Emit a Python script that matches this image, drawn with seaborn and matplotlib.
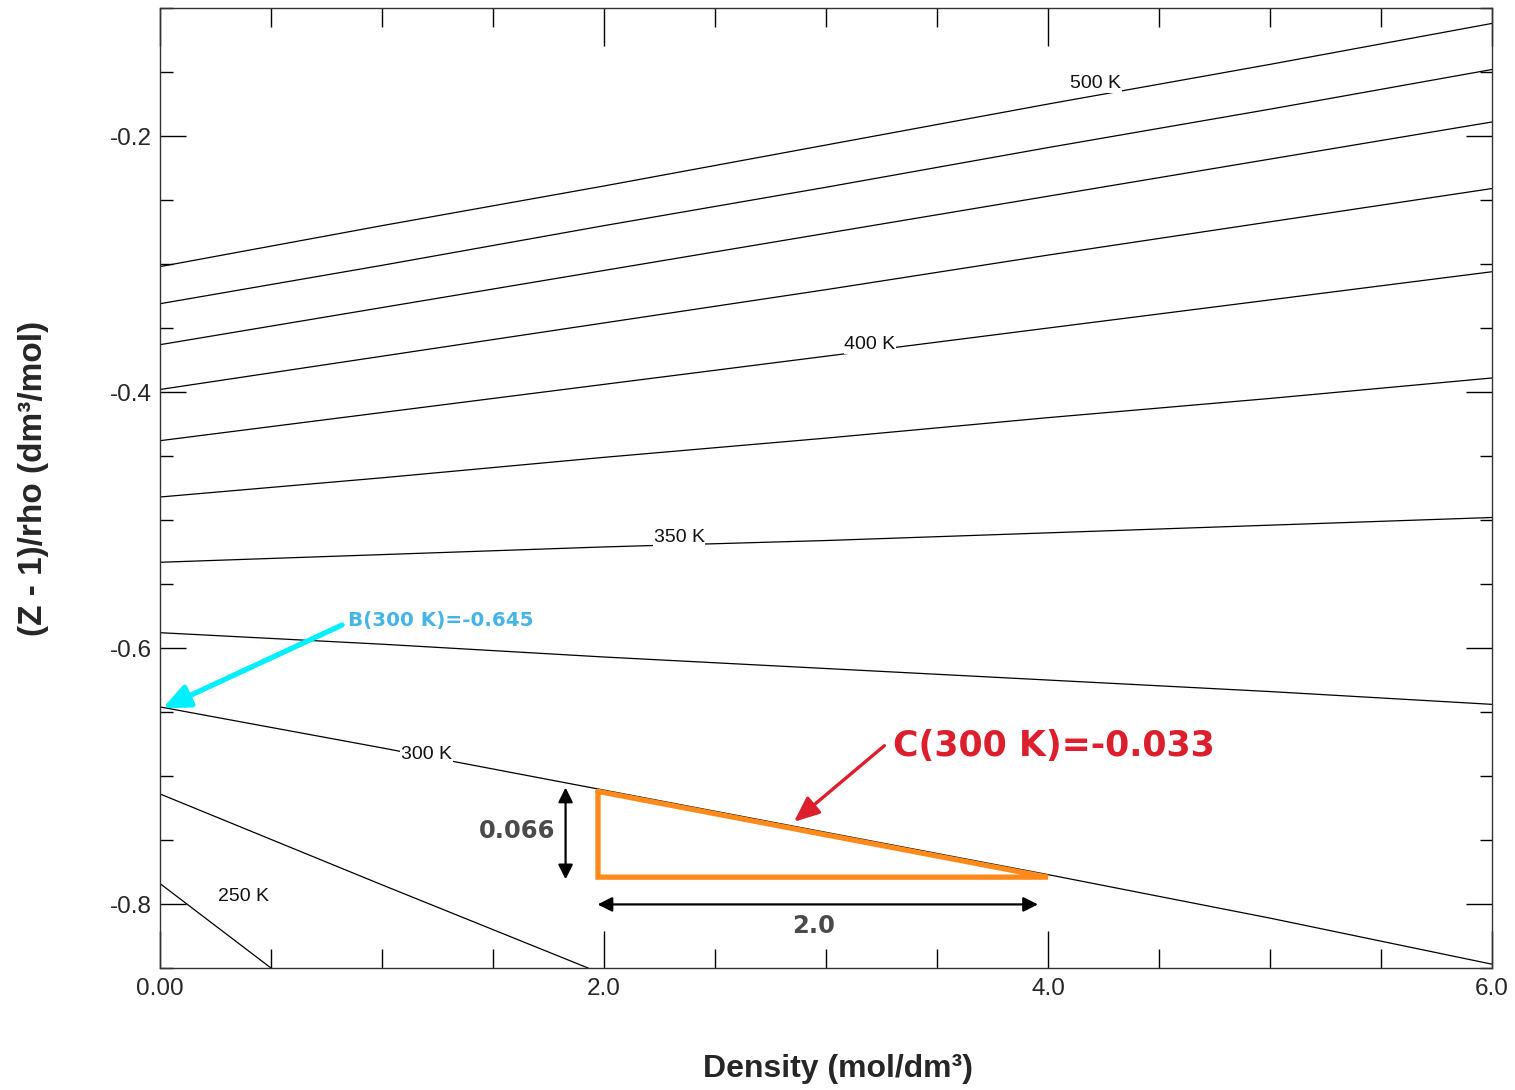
import pandas as pd
import matplotlib.pyplot as plt
import seaborn as sns
from matplotlib.ticker import FixedLocator, MultipleLocator

# Isotermas (Z-1)/rho
densidad = [0, 1, 2, 3, 4, 5, 6]
iso_500 = [-0.302, -0.270, -0.239, -0.207, -0.175, -0.144, -0.112]
iso_475 = [-0.331, -0.301, -0.270, -0.240, -0.209, -0.179, -0.148]
iso_450 = [-0.363, -0.334, -0.305, -0.276, -0.247, -0.218, -0.189]
iso_425 = [-0.398, -0.372, -0.346, -0.320, -0.293, -0.267, -0.241]
iso_400 = [-0.438, -0.416, -0.394, -0.372, -0.350, -0.328, -0.306]
iso_375 = [-0.482, -0.467, -0.451, -0.436, -0.420, -0.405, -0.389]
iso_350 = [-0.533, -0.527, -0.521, -0.516, -0.510, -0.504, -0.498]
iso_325 = [-0.588, -0.597, -0.607, -0.616, -0.625, -0.634, -0.644]
iso_300 = [-0.646, -0.678, -0.711, -0.744, -0.777, -0.811, -0.847]
densidad_275 = [0, 1, 2]
iso_275 = [-0.714, -0.785, -0.855]
densidad_250 = [0, 0.5, 1.0]
iso_250 = [-0.784, -0.850, -0.916]

# Etiquetas de las isotermas (texto, x, y)
etiquetas = ['500 K', '400 K', '350 K', '300 K', '250 K']
etiq_x = [4.216, 3.198, 2.338, 1.200, 0.374]
etiq_y = [-0.159, -0.363, -0.514, -0.683, -0.794]

# Coeficientes viriales a 300 K
B_300 = -0.645
C_300 = -0.033
tri_x = [1.973, 1.973, 4.0, 1.973]
tri_y = [-0.712, -0.779, -0.779, -0.712]

series = [
    (500, densidad, iso_500), (475, densidad, iso_475), (450, densidad, iso_450),
    (425, densidad, iso_425), (400, densidad, iso_400), (375, densidad, iso_375),
    (350, densidad, iso_350), (325, densidad, iso_325), (300, densidad, iso_300),
    (275, densidad_275, iso_275), (250, densidad_250, iso_250),
]
filas = []
for T, xs, ys in series:
    for x, y in zip(xs, ys):
        filas.append({'T': T, 'rho': x, 'valor': y})
df = pd.DataFrame(filas)

sns.set_style("white")
plt.rcParams['font.family'] = ['Liberation Sans', 'DejaVu Sans']
plt.rcParams['axes.unicode_minus'] = False

fig = plt.figure(figsize=(15.15, 10.9), dpi=100)
ax = fig.add_axes([0.1056, 0.1119, 0.8792, 0.8807])

sns.lineplot(data=df, x='rho', y='valor', units='T', estimator=None, sort=False,
             color='black', linewidth=0.9, ax=ax, legend=False)

for txt, x, y in zip(etiquetas, etiq_x, etiq_y):
    ax.text(x, y, txt, fontsize=14, ha='center', va='center', color='#111111',
            bbox=dict(facecolor='white', edgecolor='none', pad=0.5))

# Triángulo de la pendiente
ax.plot(tri_x, tri_y, color='#ff8a1c', linewidth=3.8, solid_joinstyle='miter')

# Flechas de cota
ax.annotate('', xy=(1.827, -0.709), xytext=(1.827, -0.7807),
            arrowprops=dict(arrowstyle='<|-|>', color='black', lw=1.6,
                            mutation_scale=22, shrinkA=0, shrinkB=0))
ax.annotate('', xy=(1.971, -0.8003), xytext=(3.955, -0.8003),
            arrowprops=dict(arrowstyle='<|-|>', color='black', lw=1.6,
                            mutation_scale=22, shrinkA=0, shrinkB=0))
ax.text(1.610, -0.743, '0.066', fontsize=17.5, fontweight='bold', color='#4a4a4a',
        ha='center', va='center', family='DejaVu Sans')
ax.text(2.946, -0.8172, '2.0', fontsize=17.5, fontweight='bold', color='#4a4a4a',
        ha='center', va='center', family='DejaVu Sans')

# Anotaciones B y C
ax.annotate('', xy=(0.012, -0.647), xytext=(0.82, -0.582),
            arrowprops=dict(arrowstyle='-|>,head_length=0.8,head_width=0.35',
                            color='#00f0ff', lw=3.8, mutation_scale=20,
                            shrinkA=0, shrinkB=0))
ax.text(0.847, -0.5785, f'B(300 K)={B_300}', fontsize=14.3, fontweight='bold',
        color='#45b5e6', family='DejaVu Sans', ha='left', va='center')
ax.annotate('', xy=(2.856, -0.7357), xytext=(3.263, -0.6763),
            arrowprops=dict(arrowstyle='-|>,head_length=0.7,head_width=0.3',
                            color='#dc1e2d', lw=2.4, mutation_scale=22,
                            shrinkA=0, shrinkB=0))
ax.text(3.302, -0.6766, f'C(300 K)={C_300}', fontsize=25, fontweight='bold',
        color='#dc1e2d', family='DejaVu Sans', ha='left', va='center')

ax.set_xlim(0, 6)
ax.set_ylim(-0.85, -0.1)
ax.xaxis.set_major_locator(FixedLocator([0, 2, 4, 6]))
ax.set_xticklabels(['0.00', '2.0', '4.0', '6.0'])
ax.xaxis.set_minor_locator(MultipleLocator(0.5))
ax.yaxis.set_major_locator(FixedLocator([-0.8, -0.6, -0.4, -0.2]))
ax.set_yticklabels(['-0.8', '-0.6', '-0.4', '-0.2'])
ax.yaxis.set_minor_locator(MultipleLocator(0.05))

ax.tick_params(which='both', direction='in', top=True, right=True, bottom=True,
               left=True, color='black', width=1.0, labelsize=17.5)
ax.tick_params(axis='x', which='major', length=27, pad=7)
ax.tick_params(axis='x', which='minor', length=13.5)
ax.tick_params(axis='y', which='major', length=18.5, pad=6)
ax.tick_params(axis='y', which='minor', length=9)

for s in ax.spines.values():
    s.set_color('#333333')
    s.set_linewidth(1.0)

ax.set_xlabel('Density (mol/dm³)', fontsize=23, fontweight='bold')
ax.set_ylabel('(Z - 1)/rho (dm³/mol)', fontsize=24, fontweight='bold')
ax.xaxis.set_label_coords(0.509, -0.09)
ax.yaxis.set_label_coords(-0.083, 0.51)

plt.savefig('out.png', dpi=100)
